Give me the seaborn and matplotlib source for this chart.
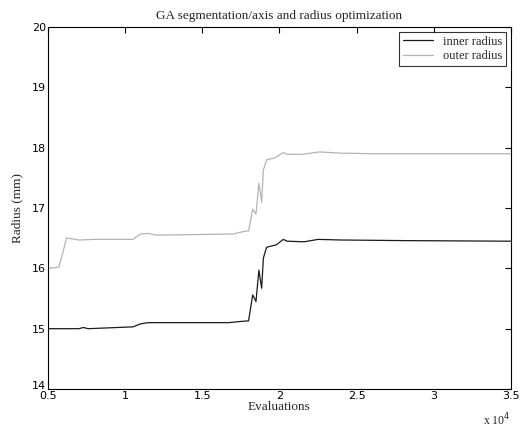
import matplotlib
matplotlib.use("Agg")
import matplotlib.pyplot as plt
import matplotlib.transforms as mtransforms
from matplotlib.ticker import FuncFormatter
import seaborn as sns
import pandas as pd

# values (x in evaluations, y in mm)
inner_x = [5000, 7000, 7300, 7600, 10500, 11000, 11500, 16700, 17500, 18000, 18270, 18480,
           18670, 18850, 18960, 19170, 19800, 20250, 20500, 21600, 22500, 24000, 28000, 35000]
inner_y = [15.0, 15.0, 15.02, 15.0, 15.03, 15.08, 15.1, 15.1, 15.12, 15.13, 15.56, 15.45,
           15.97, 15.67, 16.17, 16.35, 16.39, 16.48, 16.45, 16.44, 16.48, 16.47, 16.46, 16.45]

outer_x = [5000, 5700, 5900, 6200, 6300, 7000, 8000, 10500, 11000, 11500, 12000, 17000, 17500,
           17900, 18000, 18270, 18480, 18670, 18850, 18960, 19170, 19710, 20250, 20500, 21500,
           22600, 24000, 26000, 28000, 35000]
outer_y = [16.0, 16.02, 16.2, 16.5, 16.5, 16.47, 16.48, 16.48, 16.57, 16.58, 16.55, 16.57, 16.6,
           16.62, 16.62, 16.98, 16.9, 17.41, 17.1, 17.63, 17.8, 17.83, 17.92, 17.89, 17.89,
           17.93, 17.91, 17.9, 17.9, 17.9]

x_ticks = [5000, 10000, 15000, 20000, 25000, 30000, 35000]
y_ticks = [14, 15, 16, 17, 18, 19, 20]

df = pd.concat([
    pd.DataFrame({"Evaluations": inner_x, "Radius": inner_y, "series": "inner radius"}),
    pd.DataFrame({"Evaluations": outer_x, "Radius": outer_y, "series": "outer radius"}),
])

sns.set_style("white")
plt.rcParams["font.family"] = ["Liberation Serif", "DejaVu Serif"]

fig = plt.figure(figsize=(5.25, 4.29), dpi=100)
ax = fig.add_axes([0.0914, 0.0932, 0.8816, 0.8438])

sns.lineplot(data=df, x="Evaluations", y="Radius", hue="series",
             palette={"inner radius": "#1a1a1a", "outer radius": "#b4b4b4"},
             linewidth=0.9, ax=ax)

ax.set_xlim(5000, 35000)
ax.set_ylim(14, 20)
ax.set_xticks(x_ticks)
ax.set_yticks(y_ticks)
ax.xaxis.set_major_formatter(FuncFormatter(lambda v, p: f"{v / 1e4:g}"))
ax.tick_params(direction="in", top=True, right=True, length=4, width=0.8,
               colors="black", pad=1.5)
for lab in ax.get_xticklabels() + ax.get_yticklabels():
    lab.set_family("DejaVu Sans")
    lab.set_fontsize(8)
# lift the bottom y label ("14") a little so it sits just above the "0.5"
low = ax.get_yticklabels()[0]
low.set_transform(low.get_transform() + mtransforms.ScaledTranslation(0, 3 / 72, fig.dpi_scale_trans))
for s in ax.spines.values():
    s.set_color("black")
    s.set_linewidth(0.8)

ax.set_title("GA segmentation/axis and radius optimization", fontsize=9.5, pad=6)
ax.set_xlabel("Evaluations", fontsize=9.5, labelpad=0)
ax.set_ylabel("Radius (mm)", fontsize=9.5, labelpad=6)
ax.text(1.0, -0.062, r"x 10$^4$", transform=ax.transAxes, ha="right", va="top", fontsize=8.5)

leg = ax.legend(loc="upper right", fontsize=9, frameon=True, fancybox=False,
                edgecolor="black", borderaxespad=0.4, handlelength=2.4,
                borderpad=0.3, labelspacing=0.2)
leg.get_frame().set_linewidth(0.8)

fig.savefig("out.png", dpi=100)
